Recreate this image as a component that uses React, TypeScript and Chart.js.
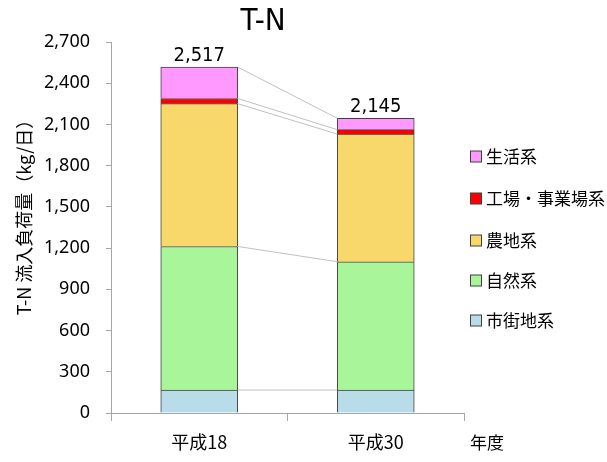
import React, { useEffect, useRef } from "react";
import { Chart, registerables } from "chart.js";

Chart.register(...registerables);

const categories = ["平成18", "平成30"];
const seriesNames = ["市街地系", "自然系", "農地系", "工場・事業場系", "生活系"];
const urban = [167, 167];
const natural = [1045, 934];
const farm = [1039, 929];
const factory = [38, 32];
const domestic = [228, 83];
const seriesColors = ["#B8DDE8", "#A8F59A", "#F8D86B", "#FF0000", "#FF99FF"];
const yTicksMax = 2700;
const yStep = 300;

const JP = '"Noto Sans CJK JP", "Noto Sans", sans-serif';
const NUM = '"Noto Sans", sans-serif';
const NARROW = '"Liberation Sans Narrow", "DejaVu Sans Condensed", "Liberation Sans", sans-serif';

export default function App() {
  const ref = useRef<HTMLCanvasElement | null>(null);

  useEffect(() => {
    if (!ref.current) return;
    const seriesValues = [urban, natural, farm, factory, domestic];
    const totals = categories.map((_, i) => seriesValues.reduce((s, arr) => s + arr[i], 0));

    const overlay = {
      id: "overlay",
      afterDatasetsDraw(chart: any) {
        const ctx = chart.ctx;
        const y = chart.scales.y;
        const x = chart.scales.x;
        const meta0 = chart.getDatasetMeta(0);
        const b0 = meta0.data[0];
        const b1 = meta0.data[1];
        const x0 = b0.x + b0.width / 2;
        const x1 = b1.x - b1.width / 2;
        ctx.save();
        ctx.strokeStyle = "#C0C0C0";
        ctx.lineWidth = 1;
        let c0 = 0, c1 = 0;
        seriesValues.forEach((arr) => {
          c0 += arr[0];
          c1 += arr[1];
          ctx.beginPath();
          ctx.moveTo(x0, y.getPixelForValue(c0));
          ctx.lineTo(x1, y.getPixelForValue(c1));
          ctx.stroke();
        });
        ctx.restore();
        ctx.save();
        ctx.fillStyle = "#000";
        ctx.font = `20px ${NARROW}`;
        ctx.textAlign = "center";
        ctx.textBaseline = "bottom";
        totals.forEach((t, i) => {
          const px = x.getPixelForValue(i);
          ctx.fillText(t.toLocaleString("en-US"), px, y.getPixelForValue(t) - 1);
        });
        ctx.restore();
      },
      afterDraw(chart: any) {
        const ctx = chart.ctx;
        ctx.save();
        ctx.fillStyle = "#000";
        ctx.font = `31px ${NARROW}`;
        ctx.textAlign = "center";
        ctx.textBaseline = "middle";
        ctx.fillText("T-N", 263, 22);
        ctx.save();
        ctx.translate(24, 213);
        ctx.rotate(-Math.PI / 2);
        ctx.font = `18px ${JP}`;
        ctx.fillText("T-N 流入負荷量（kg/日）", 0, 0);
        ctx.restore();
        ctx.font = `17px ${JP}`;
        ctx.textAlign = "left";
        ctx.fillText("年度", 470, 443);
        const ys = [157, 199, 241, 281, 321];
        for (let k = 0; k < 5; k++) {
          const idx = 4 - k;
          const yy = ys[k];
          ctx.fillStyle = seriesColors[idx];
          ctx.fillRect(470.5, yy - 6, 11, 11);
          ctx.strokeStyle = "#404040";
          ctx.lineWidth = 1;
          ctx.strokeRect(470.5, yy - 6, 11, 11);
          ctx.fillStyle = "#000";
          ctx.font = `17px ${JP}`;
          ctx.textAlign = "left";
          ctx.textBaseline = "middle";
          ctx.fillText(seriesNames[idx], 486, yy);
        }
        ctx.restore();
      },
    };

    const chart = new Chart(ref.current, {
      type: "bar",
      data: {
        labels: categories,
        datasets: seriesValues.map((arr, i) => ({
          label: seriesNames[i],
          data: arr,
          backgroundColor: seriesColors[i],
          borderColor: "#404040",
          borderWidth: 1,
          barThickness: 77,
        })),
      },
      options: {
        animation: false,
        responsive: false,
        maintainAspectRatio: false,
        layout: { padding: { top: 42, right: 143, left: 0, bottom: 0 } },
        plugins: {
          legend: { display: false },
          title: { display: false },
          tooltip: { enabled: false },
        },
        scales: {
          x: {
            stacked: true,
            afterFit: (s: any) => { s.height = 49; },
            grid: { display: true, drawOnChartArea: false, offset: true, tickLength: 8, color: "#A6A6A6" },
            border: { color: "#A6A6A6" },
            ticks: { color: "#000", font: { family: JP, size: 18 }, padding: 10 },
          },
          y: {
            stacked: true,
            min: 0,
            max: yTicksMax,
            afterFit: (s: any) => { s.width = 111; },
            grid: { drawOnChartArea: false, tickLength: 5, color: "#A6A6A6" },
            border: { color: "#A6A6A6" },
            ticks: {
              stepSize: yStep,
              color: "#000",
              padding: 16,
              font: { family: NUM, size: 18 },
              callback: (v: any) => Number(v).toLocaleString("en-US"),
            },
          },
        },
      },
      plugins: [overlay],
    });
    return () => chart.destroy();
  }, []);

  return (
    <div style={{ position: "fixed", left: 0, top: 0, width: 607, height: 462, background: "#fff" }}>
      <canvas ref={ref} width={607} height={462} style={{ width: 607, height: 462, display: "block" }} />
    </div>
  );
}
